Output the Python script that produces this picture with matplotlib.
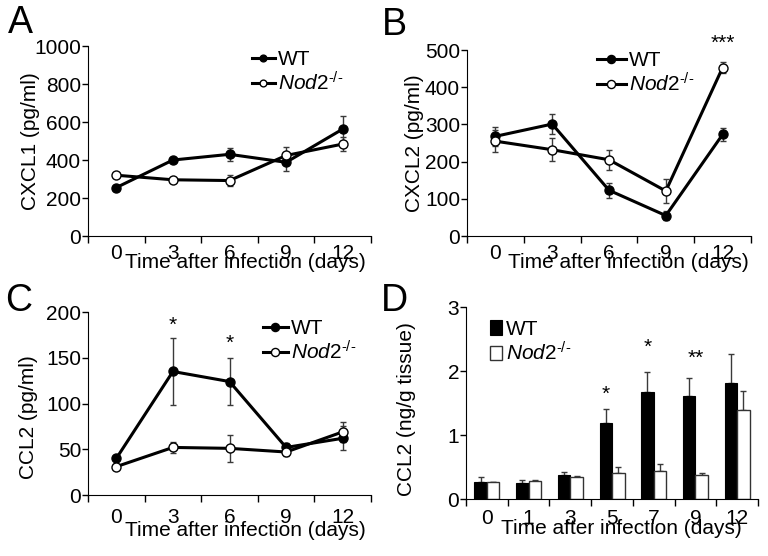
import numpy as np
import matplotlib
matplotlib.use("Agg")
import matplotlib.pyplot as plt

plt.rcParams['font.family'] = ['Liberation Sans', 'DejaVu Sans']
plt.rcParams['mathtext.fontset'] = 'custom'
plt.rcParams['mathtext.it'] = 'Liberation Sans:italic'
plt.rcParams['mathtext.rm'] = 'Liberation Sans'

# -------------------------------
# Data
# -------------------------------
days_line = ["0", "3", "6", "9", "12"]
days_bar = ["0", "1", "3", "5", "7", "9", "12"]

cxcl1_wt = [255, 400, 430, 388, 563]
cxcl1_wt_err = [10, 12, 33, 45, 70]
cxcl1_ko = [320, 296, 292, 424, 484]
cxcl1_ko_err = [8, 10, 30, 45, 35]

cxcl2_wt = [268, 301, 123, 55, 273]
cxcl2_wt_err = [25, 27, 20, 13, 18]
cxcl2_ko = [255, 232, 205, 121, 453]
cxcl2_ko_err = [30, 31, 27, 32, 16]

ccl2_wt = [40, 135, 124, 52, 62]
ccl2_wt_err = [3, 37, 26, 5, 13]
ccl2_ko = [31, 52, 51, 47, 69]
ccl2_ko_err = [3, 6, 15, 4, 11]

tissue_wt = [0.27, 0.245, 0.375, 1.19, 1.67, 1.61, 1.82]
tissue_wt_err = [0.07, 0.05, 0.05, 0.21, 0.31, 0.28, 0.45]
tissue_ko = [0.26, 0.275, 0.34, 0.40, 0.44, 0.37, 1.39]
tissue_ko_err = [0.0, 0.025, 0.025, 0.095, 0.11, 0.03, 0.29]

ko_label = "$\\mathit{Nod2}^{\\mathit{\u2010/\u2010}}$"
FS = 15
ECOL = "#3a3a3a"

fig = plt.figure(figsize=(7.68, 5.56), dpi=100)


def style_axes(ax, labels, ylim, yticks, ylabel, ylab_xy, xlab_xy, tickpad):
    n = len(labels)
    ax.spines['top'].set_visible(False)
    ax.spines['right'].set_visible(False)
    ax.set_xlim(-0.5, n - 0.5)
    ax.set_ylim(*ylim)
    ax.set_yticks(yticks)
    ax.set_xticks(np.arange(n + 1) - 0.5)
    ax.set_xticklabels([""] * (n + 1))
    ax.set_xticks(np.arange(n), minor=True)
    ax.set_xticklabels(labels, minor=True)
    ax.tick_params(axis='x', which='major', direction='out', length=5, width=1)
    ax.tick_params(axis='x', which='minor', length=0, pad=tickpad, labelsize=FS)
    ax.tick_params(axis='y', direction='out', length=4, width=1, pad=1, labelsize=FS)
    ax.set_ylabel(ylabel, fontsize=FS)
    ax.yaxis.set_label_coords(*ylab_xy)
    ax.set_xlabel("Time after infection (days)", fontsize=FS)
    ax.xaxis.set_label_coords(*xlab_xy)


def line_panel(rect, wt, wt_err, ko, ko_err):
    ax = fig.add_axes(rect)
    x = np.arange(len(wt))
    ax.errorbar(x, wt, yerr=wt_err, fmt='none', ecolor=ECOL, elinewidth=1,
                capsize=2.5, capthick=1, zorder=2)
    ax.errorbar(x, ko, yerr=ko_err, fmt='none', ecolor=ECOL, elinewidth=1,
                capsize=2.5, capthick=1, zorder=2)
    h1, = ax.plot(x, wt, color='black', lw=2.2, marker='o', ms=6.5,
                  mfc='black', mec='black', zorder=3, clip_on=False)
    h2, = ax.plot(x, ko, color='black', lw=2.2, marker='o', ms=6.5,
                  mfc='white', mec='black', mew=1, zorder=3, clip_on=False)
    return ax, [h1, h2]


def add_legend(ax, handles, fx, fy, **kw):
    ax.legend(handles, ["WT", ko_label], loc='center left',
              bbox_to_anchor=(fx, fy), bbox_transform=fig.transFigure,
              frameon=False, borderpad=0, borderaxespad=0, fontsize=FS,
              labelspacing=0.1, handletextpad=0.15, **kw)


# -------------------------------
# A: CXCL1
# -------------------------------
axA, hA = line_panel([0.1146, 0.5755, 0.3685, 0.3417],
                     cxcl1_wt, cxcl1_wt_err, cxcl1_ko, cxcl1_ko_err)
style_axes(axA, days_line, (0, 1000), [0, 200, 400, 600, 800, 1000],
           "CXCL1 (pg/ml)", (-0.17, 0.5), (0.555, -0.09), 6)
add_legend(axA, hA, 0.328, 0.8696, handlelength=1.1, markerscale=0.75)

# -------------------------------
# B: CXCL2
# -------------------------------
axB, hB = line_panel([0.6081, 0.5755, 0.3698, 0.3345],
                     cxcl2_wt, cxcl2_wt_err, cxcl2_ko, cxcl2_ko_err)
style_axes(axB, days_line, (0, 500), [0, 100, 200, 300, 400, 500],
           "CXCL2 (pg/ml)", (-0.151, 0.5), (0.567, -0.09), 6)
add_legend(axB, hB, 0.777, 0.8678, handlelength=1.4, markerscale=0.9)
axB.text(4, 519, "***", ha='center', va='center', fontsize=FS)

# -------------------------------
# C: CCL2 serum
# -------------------------------
axC, hC = line_panel([0.1146, 0.1097, 0.3685, 0.3291],
                     ccl2_wt, ccl2_wt_err, ccl2_ko, ccl2_ko_err)
style_axes(axC, days_line, (0, 200), [0, 50, 100, 150, 200],
           "CCL2 (pg/ml)", (-0.177, 0.426), (0.555, -0.14), 9)
add_legend(axC, hC, 0.3424, 0.3858, handlelength=1.2, markerscale=0.9)
axC.text(1, 185, "*", ha='center', va='center', fontsize=FS)
axC.text(2, 166, "*", ha='center', va='center', fontsize=FS)

# -------------------------------
# D: CCL2 tissue (bars)
# -------------------------------
axD = fig.add_axes([0.6068, 0.1025, 0.3802, 0.3453])
xb = np.arange(len(days_bar))
bw = 0.3
bD1 = axD.bar(xb - bw / 2, tissue_wt, width=bw, color='black', edgecolor='black',
              lw=0.8, zorder=2)
bD2 = axD.bar(xb + bw / 2, tissue_ko, width=bw, color='white', edgecolor='#333333',
              lw=1, zorder=2)
axD.errorbar(xb - bw / 2, tissue_wt, yerr=[np.zeros(len(xb)), tissue_wt_err],
             fmt='none', ecolor=ECOL, elinewidth=1, capsize=2.5, capthick=1, zorder=1)
axD.errorbar(xb + bw / 2, tissue_ko, yerr=[np.zeros(len(xb)), tissue_ko_err],
             fmt='none', ecolor=ECOL, elinewidth=1, capsize=2.5, capthick=1, zorder=1)
style_axes(axD, days_bar, (0, 3), [0, 1, 2, 3],
           "CCL2 (ng/g tissue)", (-0.171, 0.47), (0.531, -0.105), 7)
add_legend(axD, [bD1, bD2], 0.638, 0.3849, handlelength=0.6, handleheight=0.7)
axD.text(3 - bw / 2, 1.64, "*", ha='center', va='center', fontsize=FS)
axD.text(4 - bw / 2, 2.37, "*", ha='center', va='center', fontsize=FS)
axD.text(5, 2.20, "**", ha='center', va='center', fontsize=FS)

# -------------------------------
# Panel letters
# -------------------------------
fig.text(0.0104, 0.9406, "A", fontsize=27, va='baseline')
fig.text(0.497, 0.937, "B", fontsize=27, va='baseline')
fig.text(0.0065, 0.4406, "C", fontsize=27, va='baseline')
fig.text(0.496, 0.4406, "D", fontsize=27, va='baseline')

fig.savefig("out.png", dpi=100)
